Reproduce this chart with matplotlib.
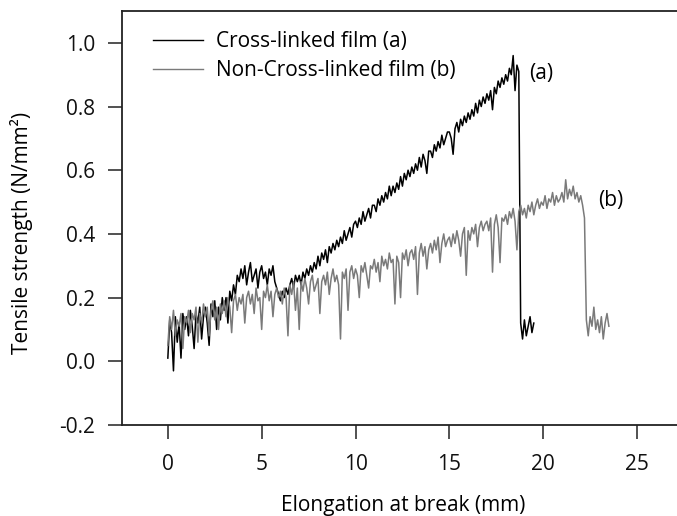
import numpy as np
import matplotlib
matplotlib.use("Agg")
import matplotlib.pyplot as plt

plt.rcParams['font.family'] = ['Open Sans', 'DejaVu Sans']

# sampling grid (mm) of the two tensile traces
step = 0.1

# Cross-linked film (a): 0.0 .. 19.5 mm
cross_linked = [
    0.01, 0.13, 0.09, -0.03, 0.14, 0.06, 0.12, 0.01, 0.15, 0.10,
    0.14, 0.08, 0.16, 0.11, 0.04, 0.15, 0.12, 0.17, 0.07, 0.14,
    0.17, 0.12, 0.05, 0.18, 0.14, 0.19, 0.10, 0.17, 0.13, 0.20,
    0.16, 0.20, 0.12, 0.22, 0.19, 0.24, 0.21, 0.27, 0.25, 0.29,
    0.26, 0.30, 0.24, 0.28, 0.31, 0.25, 0.27, 0.29, 0.23, 0.28,
    0.30, 0.26, 0.28, 0.24, 0.29, 0.27, 0.30, 0.25, 0.23, 0.21,
    0.19, 0.22, 0.20, 0.23, 0.21, 0.24, 0.26, 0.23, 0.27, 0.25,
    0.27, 0.24, 0.28, 0.26, 0.29, 0.27, 0.30, 0.28, 0.31, 0.29,
    0.33, 0.30, 0.34, 0.32, 0.35, 0.31, 0.36, 0.34, 0.37, 0.35,
    0.38, 0.36, 0.39, 0.37, 0.41, 0.38, 0.40, 0.42, 0.39, 0.43,
    0.44, 0.42, 0.45, 0.43, 0.47, 0.44, 0.46, 0.48, 0.45, 0.49,
    0.49, 0.47, 0.51, 0.49, 0.52, 0.50, 0.53, 0.51, 0.55, 0.52,
    0.55, 0.53, 0.56, 0.54, 0.58, 0.55, 0.59, 0.57, 0.60, 0.58,
    0.61, 0.59, 0.62, 0.60, 0.64, 0.61, 0.65, 0.63, 0.59, 0.66,
    0.66, 0.64, 0.68, 0.66, 0.69, 0.67, 0.71, 0.68, 0.70, 0.72,
    0.72, 0.70, 0.65, 0.73, 0.75, 0.72, 0.76, 0.74, 0.77, 0.75,
    0.78, 0.76, 0.79, 0.77, 0.81, 0.78, 0.82, 0.80, 0.83, 0.81,
    0.84, 0.82, 0.85, 0.79, 0.86, 0.84, 0.88, 0.86, 0.89, 0.87,
    0.90, 0.88, 0.92, 0.90, 0.96, 0.85, 0.93, 0.91, 0.12, 0.07,
    0.13, 0.08, 0.11, 0.14, 0.09, 0.12,
]

# Non-cross-linked film (b): 0.0 .. 23.5 mm
non_cross_linked = [
    0.05, 0.14, 0.10, 0.16, 0.08, 0.13, 0.11, 0.15, 0.04, 0.14,
    0.12, 0.16, 0.09, 0.15, 0.13, 0.17, 0.06, 0.15, 0.12, 0.18,
    0.14, 0.17, 0.08, 0.16, 0.19, 0.13, 0.17, 0.10, 0.18, 0.15,
    0.19, 0.14, 0.20, 0.17, 0.09, 0.19, 0.21, 0.16, 0.20, 0.18,
    0.21, 0.12, 0.20, 0.22, 0.18, 0.21, 0.15, 0.23, 0.19, 0.20,
    0.10, 0.22, 0.20, 0.24, 0.19, 0.22, 0.14, 0.21, 0.23, 0.20,
    0.22, 0.18, 0.23, 0.20, 0.08, 0.24, 0.21, 0.25, 0.16, 0.23,
    0.10, 0.25, 0.22, 0.26, 0.23, 0.18, 0.25, 0.27, 0.22, 0.24,
    0.26, 0.15, 0.25, 0.27, 0.24, 0.28, 0.21, 0.26, 0.29, 0.25,
    0.27, 0.24, 0.07, 0.28, 0.26, 0.29, 0.16, 0.28, 0.30, 0.26,
    0.29, 0.27, 0.20, 0.30, 0.28, 0.31, 0.27, 0.23, 0.30, 0.29,
    0.32, 0.28, 0.31, 0.25, 0.33, 0.30, 0.32, 0.29, 0.34, 0.31,
    0.32, 0.18, 0.33, 0.31, 0.20, 0.34, 0.32, 0.35, 0.30, 0.34,
    0.35, 0.32, 0.36, 0.21, 0.34, 0.37, 0.33, 0.36, 0.29, 0.35,
    0.37, 0.34, 0.38, 0.35, 0.39, 0.31, 0.37, 0.40, 0.36, 0.38,
    0.39, 0.36, 0.40, 0.37, 0.41, 0.38, 0.33, 0.40, 0.42, 0.27,
    0.41, 0.38, 0.42, 0.40, 0.43, 0.36, 0.42, 0.44, 0.41, 0.43,
    0.44, 0.41, 0.45, 0.28, 0.43, 0.46, 0.42, 0.31, 0.45, 0.44,
    0.46, 0.43, 0.47, 0.45, 0.48, 0.44, 0.35, 0.47, 0.49, 0.46,
    0.48, 0.45, 0.49, 0.47, 0.50, 0.46, 0.49, 0.51, 0.48, 0.50,
    0.49, 0.52, 0.48, 0.51, 0.50, 0.53, 0.49, 0.52, 0.50, 0.51,
    0.53, 0.50, 0.57, 0.51, 0.54, 0.52, 0.55, 0.51, 0.53, 0.50,
    0.52, 0.49, 0.45, 0.13, 0.08, 0.14, 0.11, 0.17, 0.10, 0.13,
    0.09, 0.14, 0.07, 0.12, 0.15, 0.11,
]

x_ticks = [0, 5, 10, 15, 20, 25]
y_ticks = [-0.2, 0.0, 0.2, 0.4, 0.6, 0.8, 1.0]
y_tick_labels = ['-0.2', '0.0', '0.2', '0.4', '0.6', '0.8', '1.0']

x_a = np.arange(len(cross_linked)) * step
x_b = np.arange(len(non_cross_linked)) * step

fig = plt.figure(figsize=(6.77, 5.16), dpi=100)
ax = fig.add_axes([0.180, 0.1764, 0.82, 0.8023])

ax.plot(x_a, cross_linked, color='black', lw=1.1, label='Cross-linked film (a)')
ax.plot(x_b, non_cross_linked, color='#7a7a7a', lw=1.1, label='Non-Cross-linked film (b)')

ax.set_xlim(-2.45, 27.13)
ax.set_ylim(-0.2, 1.1)
ax.set_xticks(x_ticks)
ax.set_yticks(y_ticks)
ax.set_yticklabels(y_tick_labels)

fs = 15
for side in ['left', 'top', 'bottom']:
    ax.spines[side].set_linewidth(1.3)
    ax.spines[side].set_color('#222222')
ax.spines['right'].set_visible(False)
ax.tick_params(axis='both', direction='out', length=10, width=1.1,
               color='#222222', labelsize=fs, labelcolor='#111111')
ax.tick_params(axis='x', pad=11)
ax.tick_params(axis='y', pad=9)

ax.set_xlabel('Elongation at break (mm)', fontsize=fs)
ax.set_ylabel('Tensile strength (N/mm²)', fontsize=fs)
ax.xaxis.set_label_coords(0.507, -0.168)
ax.yaxis.set_label_coords(-0.16, 0.464)

ax.text(19.25, 0.905, '(a)', fontsize=fs, va='center', ha='left')
ax.text(22.95, 0.505, '(b)', fontsize=fs, va='center', ha='left')

leg = ax.legend(loc='upper left', bbox_to_anchor=(153 / 677, 1 - 31 / 516),
                bbox_transform=fig.transFigure, frameon=False, fontsize=fs,
                handlelength=2.4, handletextpad=0.6, labelspacing=0.4,
                borderpad=0, borderaxespad=0)
for line in leg.get_lines():
    line.set_linewidth(1.0)

fig.savefig('out.png', dpi=100)
